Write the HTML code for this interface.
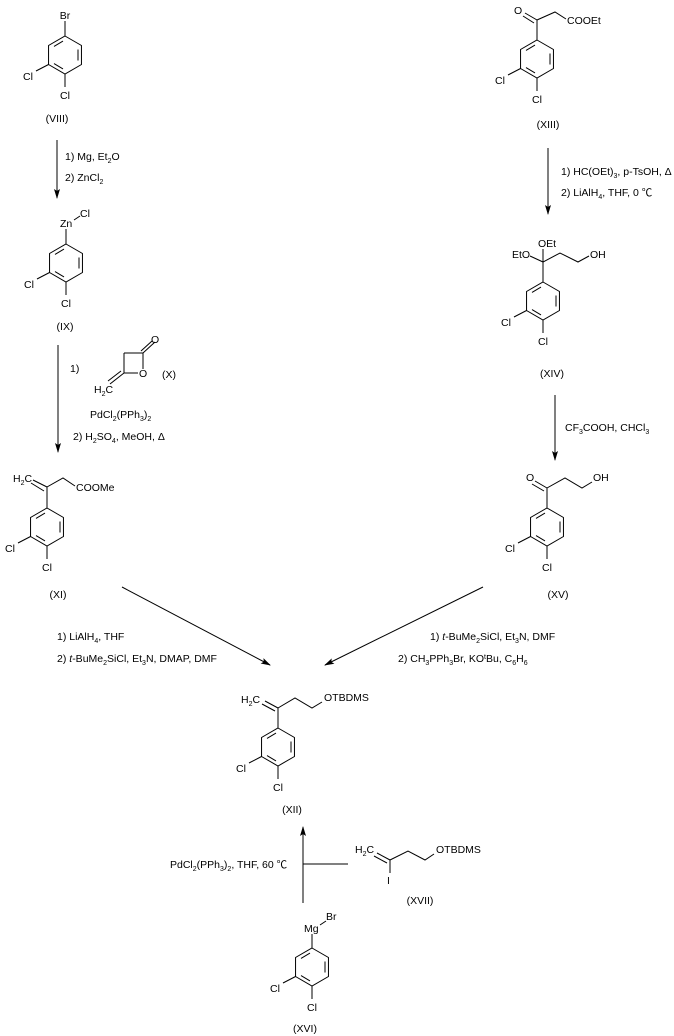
<!DOCTYPE html>
<html><head><meta charset="utf-8"><style>
html,body{margin:0;padding:0;background:#fff;}
svg{display:block;}
text{font-family:"Liberation Sans","Noto Sans CJK SC",sans-serif;font-size:10.5px;fill:#000;}
</style></head><body>
<svg width="674" height="1036" viewBox="0 0 674 1036" xmlns="http://www.w3.org/2000/svg">
<defs>
<marker id="ah" markerWidth="10" markerHeight="8" refX="9" refY="4" orient="auto" markerUnits="userSpaceOnUse">
<path d="M0,1 L10,4 L0,7 L2,4 Z" fill="#000"/>
</marker>
<g id="ring" stroke="#000" stroke-width="1" fill="none">
<path d="M0,-19 L16.45,-9.5 L16.45,9.5 L0,19 L-16.45,9.5 L-16.45,-9.5 Z"/>
<path d="M13,-5.5 L13,5.5 M-2,13.9 L-11,8.6 M-11,-8.6 L-2,-13.9"/>
<path d="M-16.45,9.5 L-29,16 M0,19 L0,32"/>
</g>
<g id="ringt">
<use href="#ring"/>
<text x="-37" y="25" text-anchor="middle">Cl</text>
<text x="0" y="44" text-anchor="middle">Cl</text>
</g>
</defs>
<g stroke="#000" stroke-width="1" fill="none">
<!-- VIII -->
<path d="M65,36 L65,21"/>
<!-- arrows -->
<path d="M57,140 L57,198" marker-end="url(#ah)"/>
<path d="M58,345 L58,452" marker-end="url(#ah)"/>
<path d="M548,148 L548,214" marker-end="url(#ah)"/>
<path d="M555,395 L555,460" marker-end="url(#ah)"/>
<path d="M122,587 L270,665" marker-end="url(#ah)"/>
<path d="M483,587 L325,665" marker-end="url(#ah)"/>
<path d="M303,903 L303,827" marker-end="url(#ah)"/>
<path d="M303,864 L348,864"/>
<!-- IX -->
<path d="M66,244 L66,229 M74,220 L80,216"/>
<!-- X beta-lactone -->
<path d="M124,353 L143,353 L143,369 M138,373 L124,373 L124,353 M143,353 L155,342 M141,351 L152,341 M124,373 L110,384 M121,371 L108,381"/>
<!-- XI -->
<path d="M47,508 L47,487 L63,478 L75,486 M47,487 L33,480 M44,491 L31,483"/>
<!-- XIII -->
<path d="M537,40 L537,20 L555,12 L566,19 M537,20 L525,13 M534,23 L523,16"/>
<!-- XIV -->
<path d="M543,282 L543,262 L560,253 L578,262 L589,256 M543,262 L530,256 M543,262 L543,249"/>
<!-- XV -->
<path d="M547,508 L547,488 L565,478 L582,488 L592,482 M547,488 L535,481 M544,491 L532,484"/>
<!-- XII -->
<path d="M278,728 L278,708 L295,698 L312,708 L322,702 M278,708 L265,701 M275,711 L262,704"/>
<!-- XVII -->
<path d="M390,860 L408,851 L425,860 L434,854 M390,860 L377,853 M387,863 L374,856 M390,860 L390,873"/>
<!-- XVI -->
<path d="M312,948 L312,934 M320,925 L326,921"/>
</g>
<use href="#ringt" x="65" y="55"/>
<use href="#ringt" x="66" y="263"/>
<use href="#ringt" x="47" y="527"/>
<use href="#ringt" x="537" y="59"/>
<use href="#ringt" x="543" y="301"/>
<use href="#ringt" x="547" y="527"/>
<use href="#ringt" x="278" y="747"/>
<use href="#ringt" x="312" y="967"/>

<text x="65" y="19" text-anchor="middle">Br</text>
<text x="57" y="122" text-anchor="middle">(VIII)</text>
<text x="65" y="160">1) Mg, Et<tspan font-size="7" dy="3">2</tspan><tspan dy="-3">O</tspan></text>
<text x="65" y="181">2) ZnCl<tspan font-size="7" dy="3">2</tspan></text>
<text x="60" y="227">Zn</text>
<text x="80" y="217">Cl</text>
<text x="65" y="330" text-anchor="middle">(IX)</text>
<text x="70" y="372">1)</text>
<text x="151" y="343">O</text>
<text x="139" y="377">O</text>
<text x="94" y="393">H<tspan font-size="7" dy="3">2</tspan><tspan dy="-3">C</tspan></text>
<text x="162" y="378">(X)</text>
<text x="90" y="418">PdCl<tspan font-size="7" dy="3">2</tspan><tspan dy="-3">(PPh</tspan><tspan font-size="7" dy="3">3</tspan><tspan dy="-3">)</tspan><tspan font-size="7" dy="3">2</tspan></text>
<text x="73" y="440">2) H<tspan font-size="7" dy="3">2</tspan><tspan dy="-3">SO</tspan><tspan font-size="7" dy="3">4</tspan><tspan dy="-3">, MeOH, Δ</tspan></text>
<text x="13" y="482">H<tspan font-size="7" dy="3">2</tspan><tspan dy="-3">C</tspan></text>
<text x="76" y="491">COOMe</text>
<text x="58" y="598" text-anchor="middle">(XI)</text>

<text x="514" y="14">O</text>
<text x="567" y="24">COOEt</text>
<text x="548" y="128" text-anchor="middle">(XIII)</text>
<text x="561" y="175">1) HC(OEt)<tspan font-size="7" dy="3">3</tspan><tspan dy="-3">, p-TsOH, Δ</tspan></text>
<text x="561" y="196">2) LiAlH<tspan font-size="7" dy="3">4</tspan><tspan dy="-3">, THF, 0 ℃</tspan></text>
<text x="512" y="258">EtO</text>
<text x="538" y="247">OEt</text>
<text x="590" y="258">OH</text>
<text x="552" y="377" text-anchor="middle">(XIV)</text>
<text x="565" y="431">CF<tspan font-size="7" dy="3">3</tspan><tspan dy="-3">COOH, CHCl</tspan><tspan font-size="7" dy="3">3</tspan></text>
<text x="526" y="481">O</text>
<text x="593" y="481">OH</text>
<text x="558" y="598" text-anchor="middle">(XV)</text>

<text x="57" y="640">1) LiAlH<tspan font-size="7" dy="3">4</tspan><tspan dy="-3">, THF</tspan></text>
<text x="57" y="662">2) <tspan font-style="italic">t</tspan>-BuMe<tspan font-size="7" dy="3">2</tspan><tspan dy="-3">SiCl, Et</tspan><tspan font-size="7" dy="3">3</tspan><tspan dy="-3">N, DMAP, DMF</tspan></text>
<text x="430" y="640">1) <tspan font-style="italic">t</tspan>-BuMe<tspan font-size="7" dy="3">2</tspan><tspan dy="-3">SiCl, Et</tspan><tspan font-size="7" dy="3">3</tspan><tspan dy="-3">N, DMF</tspan></text>
<text x="398" y="662">2) CH<tspan font-size="7" dy="3">3</tspan><tspan dy="-3">PPh</tspan><tspan font-size="7" dy="3">3</tspan><tspan dy="-3">Br, KO</tspan><tspan font-size="7" dy="-3">t</tspan><tspan dy="3">Bu, C</tspan><tspan font-size="7" dy="3">6</tspan><tspan dy="-3">H</tspan><tspan font-size="7" dy="3">6</tspan></text>

<text x="241" y="703">H<tspan font-size="7" dy="3">2</tspan><tspan dy="-3">C</tspan></text>
<text x="324" y="701">OTBDMS</text>
<text x="292" y="813" text-anchor="middle">(XII)</text>

<text x="170" y="868">PdCl<tspan font-size="7" dy="3">2</tspan><tspan dy="-3">(PPh</tspan><tspan font-size="7" dy="3">3</tspan><tspan dy="-3">)</tspan><tspan font-size="7" dy="3">2</tspan><tspan dy="-3">, THF, 60 ℃</tspan></text>
<text x="355" y="853">H<tspan font-size="7" dy="3">2</tspan><tspan dy="-3">C</tspan></text>
<text x="387" y="884">I</text>
<text x="436" y="853">OTBDMS</text>
<text x="420" y="904" text-anchor="middle">(XVII)</text>
<text x="304" y="932">Mg</text>
<text x="326" y="920">Br</text>
<text x="305" y="1032" text-anchor="middle">(XVI)</text>
</svg>
</body></html>
